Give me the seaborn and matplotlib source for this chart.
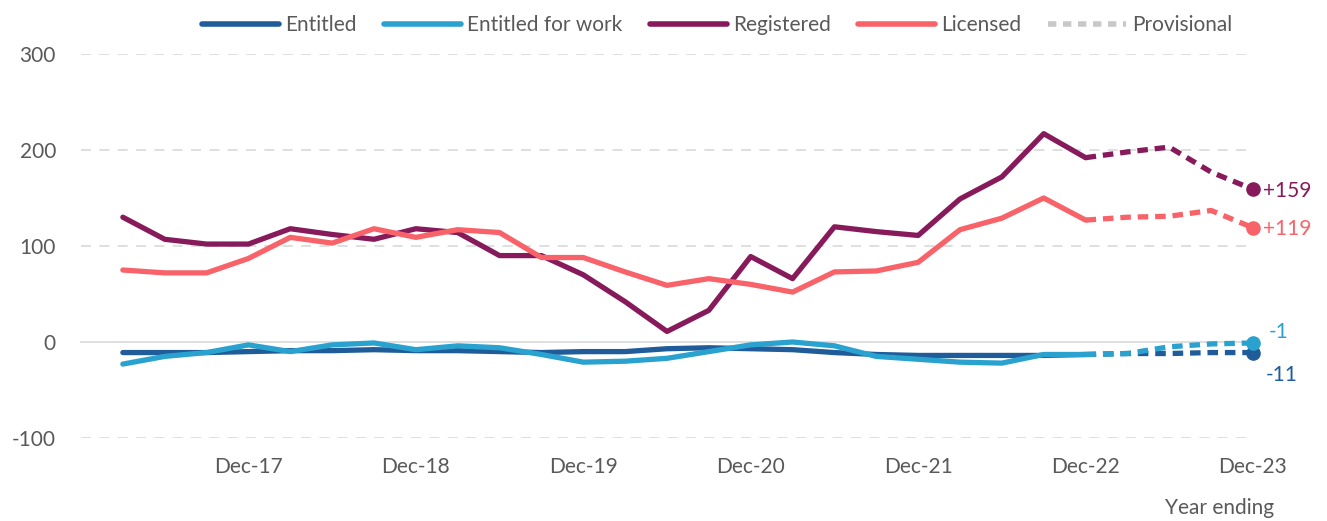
import matplotlib
matplotlib.use("Agg")
import matplotlib.pyplot as plt
import seaborn as sns
import pandas as pd
import numpy as np
from matplotlib.lines import Line2D

# ---- data ----
quarters = ["Mar-17", "Jun-17", "Sep-17", "Dec-17", "Mar-18", "Jun-18", "Sep-18", "Dec-18",
            "Mar-19", "Jun-19", "Sep-19", "Dec-19", "Mar-20", "Jun-20", "Sep-20", "Dec-20",
            "Mar-21", "Jun-21", "Sep-21", "Dec-21", "Mar-22", "Jun-22", "Sep-22", "Dec-22",
            "Mar-23", "Jun-23", "Sep-23", "Dec-23"]
entitled = [-11, -11, -11, -10, -9, -9, -8, -9, -9, -10, -11, -10, -10, -7, -6, -7,
            -8, -11, -13, -14, -14, -14, -14, -13, -12, -12, -11, -11]
entitled_work = [-23, -15, -11, -3, -10, -3, -1, -8, -4, -6, -13, -21, -20, -17, -10, -3,
                 0, -4, -15, -18, -21, -22, -13, -13, -12, -5, -2, -1]
registered = [130, 107, 102, 102, 118, 112, 107, 118, 114, 90, 90, 70, 42, 11, 33, 89,
              66, 120, 115, 111, 149, 172, 217, 192, 198, 203, 177, 159]
licensed = [75, 72, 72, 87, 109, 103, 118, 109, 117, 114, 88, 88, 73, 59, 66, 60,
            52, 73, 74, 83, 117, 129, 150, 127, 130, 131, 137, 119]
series_names = ["Entitled", "Entitled for work", "Registered", "Licensed"]
end_labels = ["-11", "-1", "+159", "+119"]
tick_labels = ["Dec-17", "Dec-18", "Dec-19", "Dec-20", "Dec-21", "Dec-22", "Dec-23"]
y_ticks = [-100, 0, 100, 200, 300]
provisional_start = "Dec-22"

colors = {"Entitled": "#1F5C99", "Entitled for work": "#2AA2CF",
          "Registered": "#871A5B", "Licensed": "#F8636A"}
grey_txt = "#595959"

df = pd.DataFrame({"quarter": quarters,
                   "Entitled": entitled, "Entitled for work": entitled_work,
                   "Registered": registered, "Licensed": licensed})
df["pos"] = np.arange(len(df))
split = quarters.index(provisional_start)

sns.set_theme(style="white")
plt.rcParams["font.family"] = ["Lato", "DejaVu Sans"]

fig = plt.figure(figsize=(13.27, 5.21), dpi=100)
ax = fig.add_axes([81 / 1327, 1 - 438 / 521, (1253 - 81) / 1327, 384 / 521])

lw = 3.8
fs = 15
for name in series_names:
    solid = df.iloc[: split + 1]
    prov = df.iloc[split:]
    sns.lineplot(x=solid["pos"], y=solid[name], ax=ax, color=colors[name], lw=lw,
                 solid_capstyle="round", solid_joinstyle="round", clip_on=False, zorder=3)
    sns.lineplot(x=prov["pos"], y=prov[name], ax=ax, color=colors[name], lw=lw,
                 dashes=False, clip_on=False, zorder=3).lines[-1].set_dashes((2.0, 1.3))
    ax.plot(df["pos"].iloc[-1], df[name].iloc[-1], "o", color=colors[name], ms=9.5,
            clip_on=False, zorder=4)

# end labels
last = df["pos"].iloc[-1]
offsets = {"Entitled": (9, -16), "Entitled for work": (11, 8),
           "Registered": (7, -1), "Licensed": (7, -1)}
for name, lab in zip(series_names, end_labels):
    dx, dy = offsets[name]
    ax.annotate(lab, (last, df[name].iloc[-1]), xytext=(dx, dy), textcoords="offset points",
                ha="left", va="center", fontsize=fs, color=colors[name])

ax.set_xlim(-1, len(df) - 1)
ax.set_ylim(-100, 300)
ax.set_yticks(y_ticks)
ax.set_yticklabels([str(v) for v in y_ticks])
ax.tick_params(axis="y", length=0, labelsize=fs, labelcolor=grey_txt, pad=18)
for v in y_ticks:
    if v != 0:
        ax.axhline(v, color="#D9D9D9", lw=1.2, ls=(0, (6, 5)), zorder=1)

for s in ["top", "right", "left"]:
    ax.spines[s].set_visible(False)
ax.spines["bottom"].set_position(("data", 0))
ax.spines["bottom"].set_color("#D9D9D9")
ax.spines["bottom"].set_linewidth(1.2)
ax.spines["bottom"].set_zorder(2)
dec_pos = [quarters.index(t) for t in tick_labels]
ax.set_xticks([-1] + dec_pos)
ax.tick_params(axis="x", direction="out", length=6, width=1.2, color="#D9D9D9",
               labelbottom=False)
ax.set_xlabel("")
ax.set_ylabel("")

sec = ax.secondary_xaxis(0)
sec.set_xticks(dec_pos)
sec.set_xticklabels(tick_labels)
sec.tick_params(length=0, labelsize=fs, labelcolor=grey_txt, pad=14)
sec.spines["bottom"].set_visible(False)

fig.text(1220 / 1327, 1 - 508 / 521, "Year ending", ha="center", va="center",
         fontsize=fs, color=grey_txt)

handles = [Line2D([], [], color=colors[n], lw=4, solid_capstyle="round") for n in series_names]
handles.append(Line2D([], [], color="#C8C8C8", lw=4, dashes=(1.5, 1.2)))
fig.legend(handles, series_names + ["Provisional"], loc="center", ncol=5,
           bbox_to_anchor=(717 / 1327, 1 - 25 / 521), frameon=False, fontsize=fs,
           labelcolor=grey_txt, handlelength=3.7, handletextpad=0.3, columnspacing=1.3)

fig.savefig("out.png", dpi=100)
